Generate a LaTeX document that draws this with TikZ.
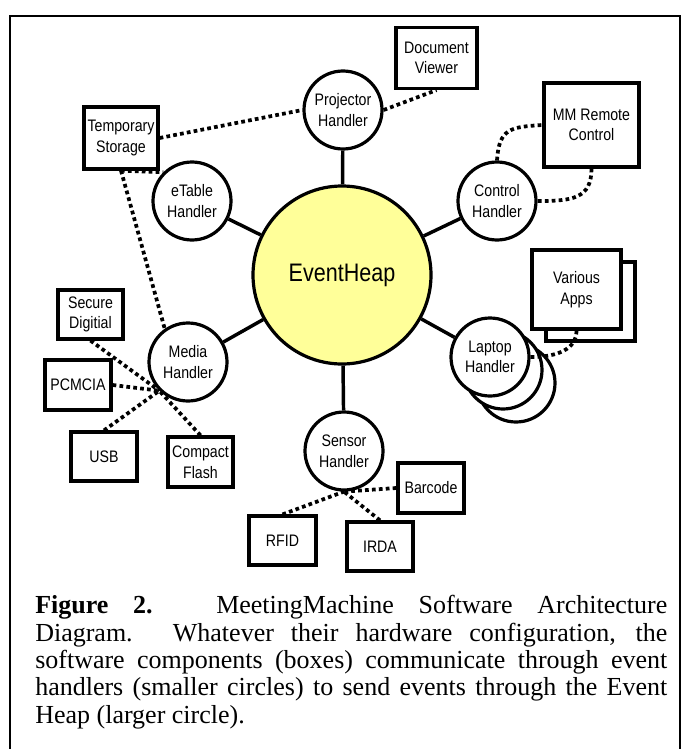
\documentclass[tikz,border=0pt]{standalone}
\usepackage{fontspec}
\setmainfont{Liberation Serif}
\newfontfamily\narrowsf[FakeStretch=0.85]{Liberation Sans}
\definecolor{heapyellow}{HTML}{FFFF99}
\tikzset{
    hub/.style={circle,draw,line width=2.4pt,fill=heapyellow,minimum size=133.5pt,inner sep=0pt,font=\narrowsf\fontsize{19}{22}\selectfont},
    handler/.style={circle,draw,line width=2.4pt,fill=white,minimum size=58.5pt,inner sep=0pt,align=center,font=\narrowsf\fontsize{12.5}{15.5}\selectfont},
    comp/.style={rectangle,draw,line width=2.4pt,fill=white,inner sep=0pt,align=center,font=\narrowsf\fontsize{12.5}{15.5}\selectfont},
    link/.style={line width=2.6pt},
    dotlink/.style={line width=2.8pt,dash pattern=on 2.8pt off 2.4pt}
}
\begin{document}
\begin{tikzpicture}[x=0.75pt,y=-0.75pt]
    \useasboundingbox (0,0) rectangle (683,749);
    \draw[line width=1.5pt] (10,760) -- (10,16) -- (680,16) -- (680,760);
    \node[hub] (heap) at (342,275) {EventHeap};
    \node[handler] (proj) at (343,110) {Projector\\Handler};
    \node[handler] (etab) at (192,201) {eTable\\Handler};
    \node[handler] (ctrl) at (497,201) {Control\\Handler};
    \node[handler] (media) at (188,362) {Media\\Handler};
    \node[handler] (lap3) at (516,383) {};
    \node[handler] (lap2) at (503,370) {};
    \node[handler] (lap) at (490,357) {Laptop\\Handler};
    \node[handler] (sens) at (344,451) {Sensor\\Handler};
    \node[comp,minimum width=60.75pt,minimum height=45.75pt] (doc) at (436.5,58) {Document\\Viewer};
    \node[comp,minimum width=55.5pt,minimum height=46.5pt] (temp) at (121,138) {Temporary\\Storage};
    \node[comp,minimum width=71.25pt,minimum height=63pt] (mm) at (591.5,125) {MM Remote\\Control};
    \node[comp,minimum width=66.75pt,minimum height=59.25pt] (appsback) at (590.5,301.5) {};
    \node[comp,minimum width=66.75pt,minimum height=59.25pt] (apps) at (576.5,289.5) {Various\\Apps};
    \node[comp,minimum width=48.75pt,minimum height=36.75pt] (sd) at (90.5,314.5) {Secure\\Digitial};
    \node[comp,minimum width=49.5pt,minimum height=37.5pt] (pcm) at (78,385) {PCMCIA};
    \node[comp,minimum width=49.5pt,minimum height=36.75pt] (usb) at (104,456.5) {USB};
    \node[comp,minimum width=48.75pt,minimum height=37.5pt] (cf) at (200.5,462) {Compact\\Flash};
    \node[comp,minimum width=49.5pt,minimum height=37.5pt] (bar) at (431,488) {Barcode};
    \node[comp,minimum width=50.25pt,minimum height=36.75pt] (rfid) at (282.5,540.5) {RFID};
    \node[comp,minimum width=49.5pt,minimum height=36.75pt] (irda) at (380,546.5) {IRDA};
    \foreach \h in {proj,etab,ctrl,media,lap,sens}
        \draw[link] (heap) -- (\h);
    \draw[dotlink] (temp.east) -- (proj.west);
    \draw[dotlink] (proj.east) -- (doc.south);
    \draw[dotlink] (temp.south) -- (etab.135);
    \draw[dotlink] (temp.south) -- (media.125);
    \draw[dotlink] (ctrl.north) .. controls +(2,-32) and +(-32,2) .. (mm.west);
    \draw[dotlink] (mm.south) .. controls +(0,30) and +(35,0) .. (ctrl.east);
    \draw[dotlink] (lap.east) .. controls +(28,0) and +(0,18) .. (apps.south);
    \foreach \c in {sd.south,pcm.east,usb.north,cf.north}
        \draw[dotlink] (\c) -- (media.225);
    \foreach \c in {bar.west,rfid.north,irda.north}
        \draw[dotlink] (\c) -- (sens.south);
    \node[anchor=north west,text width=474pt,align=justify,inner sep=0pt,font=\fontsize{19.5}{20.6}\selectfont] (caption) at (35,595)
        {\textbf{Figure 2.} MeetingMachine Software Architecture\linebreak Diagram. Whatever their hardware configuration, the\linebreak software components (boxes) communicate through event\linebreak handlers (smaller circles) to send events through the Event\linebreak Heap (larger circle).};
\end{tikzpicture}
\end{document}
